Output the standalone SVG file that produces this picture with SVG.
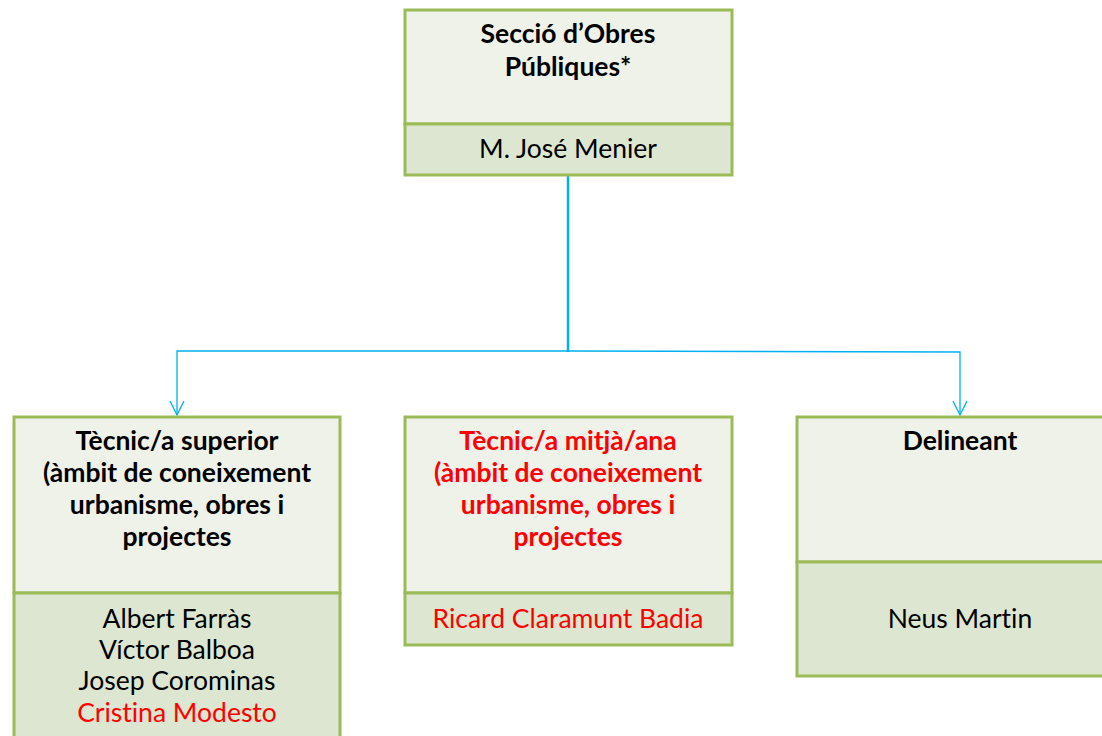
<svg xmlns="http://www.w3.org/2000/svg" width="1102" height="736" viewBox="0 0 1102 736">
<defs>
<style>
.top{fill:#EFF2E9;stroke:#9BBB59;stroke-width:3}
.bot{fill:#DDE6D0;stroke:#9BBB59;stroke-width:3}
.h{font-family:Lato,"Liberation Sans",Arial,sans-serif;font-weight:bold;font-size:26.5px;fill:#000;text-anchor:middle;font-variant-ligatures:none}
.n{font-family:Lato,"Liberation Sans",Arial,sans-serif;font-size:26.5px;fill:#000;text-anchor:middle;font-variant-ligatures:none}
.red{fill:#FF0000}
.c{fill:none;stroke:#00B0F0;stroke-width:1.3}
</style>
<marker id="arr" markerWidth="16" markerHeight="16" refX="8" refY="15" orient="0" markerUnits="userSpaceOnUse" viewBox="0 0 16 16">
<path d="M1,1 L8,15 L15,1" fill="none" stroke="#00B0F0" stroke-width="1.3"/>
</marker>
</defs>
<rect width="1102" height="736" fill="#fff"/>
<g id="connectors">
<line x1="568" y1="176" x2="568" y2="352" stroke="#00B0F0" stroke-width="2.5"/>
<path class="c" d="M568,351 L177,351 L177,415" marker-end="url(#arr)"/>
<path class="c" d="M568,351 L960,352 L960,415" marker-end="url(#arr)"/>
</g>
<g id="node-seccio">
<rect class="top" x="405" y="10" width="327" height="114"/>
<rect class="bot" x="405" y="124" width="327" height="51"/>
<text class="h" x="568" y="43">Secció d’Obres</text>
<text class="h" x="568" y="76">Públiques*</text>
<text class="n" x="568" y="158">M. José Menier</text>
</g>
<g id="node-tecnic-superior">
<rect class="top" x="14" y="417" width="326" height="176"/>
<rect class="bot" x="14" y="593" width="326" height="150"/>
<text class="h" x="177" y="450">Tècnic/a superior</text>
<text class="h" x="177" y="482">(àmbit de coneixement</text>
<text class="h" x="177" y="514">urbanisme, obres i</text>
<text class="h" x="177" y="546">projectes</text>
<text class="n" x="177" y="628">Albert Farràs</text>
<text class="n" x="177" y="659">Víctor Balboa</text>
<text class="n" x="177" y="690">Josep Corominas</text>
<text class="n red" x="177" y="722">Cristina Modesto</text>
</g>
<g id="node-tecnic-mitja">
<rect class="top" x="405" y="417" width="327" height="176"/>
<rect class="bot" x="405" y="593" width="327" height="52"/>
<text class="h red" x="568" y="450">Tècnic/a mitjà/ana</text>
<text class="h red" x="568" y="482">(àmbit de coneixement</text>
<text class="h red" x="568" y="514">urbanisme, obres i</text>
<text class="h red" x="568" y="546">projectes</text>
<text class="n red" x="568" y="628">Ricard Claramunt Badia</text>
</g>
<g id="node-delineant">
<rect class="top" x="797" y="417" width="330" height="145"/>
<rect class="bot" x="797" y="562" width="330" height="114"/>
<text class="h" x="960" y="450">Delineant</text>
<text class="n" x="960" y="628">Neus Martin</text>
</g>
</svg>
